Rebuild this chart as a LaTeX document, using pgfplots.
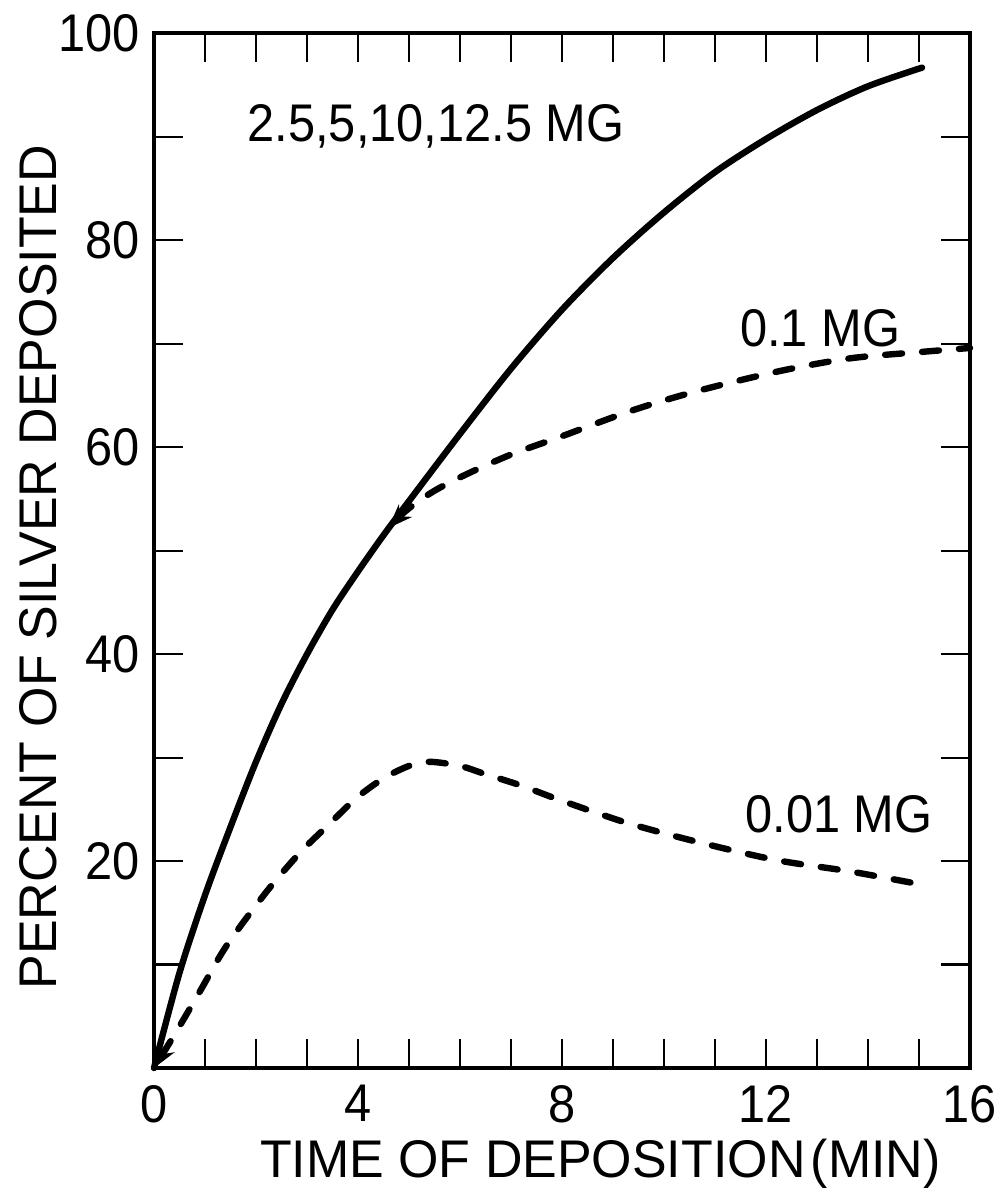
\documentclass[border=0pt]{standalone}
\usepackage{fontspec}
\setmainfont{Liberation Sans}[FakeStretch=0.92]
\newfontfamily\labelfamily{Liberation Sans}[FakeStretch=0.98]
\usepackage{pgfplots}
\pgfplotsset{compat=1.18}
\usetikzlibrary{arrows.meta}
\newcommand{\chartfont}{\fontsize{26.5}{30}\selectfont}
\begin{document}
\chartfont
\begin{tikzpicture}
\begin{axis}[
  scale only axis, width=408pt, height=517.25pt,
  xmin=0, xmax=16, ymin=0, ymax=100,
  xtick={0,4,8,12,16}, minor xtick={1,2,3,5,6,7,9,10,11,13,14,15},
  ytick={20,40,60,80,100}, minor ytick={10,30,50,70,90},
  major tick length=14.5pt, minor tick length=14.5pt,
  tick align=inside, tick pos=both,
  axis line style={line width=2pt},
  tick style={black, line width=1.1pt},
  /pgf/number format/assume math mode=true,
  tick label style={font=\chartfont},
  label style={font=\labelfamily\chartfont},
  xticklabel style={inner sep=0pt, yshift=-8.5pt},
  yticklabel style={inner sep=0pt, xshift=-7pt},
  xlabel={TIME OF DEPOSITION\hspace{0.1em}(MIN)},
  ylabel={PERCENT OF SILVER DEPOSITED},
  xlabel style={at={(axis description cs:0.547,-0.1063)}, anchor=base, inner sep=0pt},
  ylabel style={at={(axis description cs:-0.1189,0.484)}, anchor=base, inner sep=0pt},
  clip=false,
]
% 2.5, 5, 10, 12.5 mg (solid)
\addplot[black, line width=3.2pt, line cap=round, smooth] coordinates {
 (0,0) (0.5,9.2) (1,16.7) (1.5,23.3) (2,29.6) (2.5,35.2) (3,40.0) (3.5,44.3)
 (4,48.0) (4.5,51.5) (5,54.8) (6,61.3) (7,67.6) (8,73.3) (9,78.3) (10,82.7)
 (11,86.6) (12,89.8) (13,92.6) (14,94.9) (15.06,96.7)
};
% 0.1 mg (dashed)
\addplot[black, line width=3.2pt, line cap=round, dash pattern=on 8.5pt off 10pt, smooth,
  arrows={Stealth[length=12pt,width=9pt]-}] coordinates {
 (4.6,52.2) (5.0,54.1) (5.5,55.8) (6.13,57.4) (7.0,59.3) (7.96,61.0) (9.4,63.6)
 (10.7,65.5) (12.3,67.4) (13.65,68.6) (15.0,69.2) (16,69.6)
};
% 0.01 mg (dashed)
\addplot[black, line width=3.2pt, line cap=round, dash pattern=on 8.5pt off 10pt, smooth,
  arrows={Stealth[length=12pt,width=9pt]-}] coordinates {
 (0,0) (0.4,3.2) (0.9,7.4) (1.42,11.8) (2.2,17.0) (2.86,20.8) (3.4,23.4) (3.97,26.1)
 (4.5,28.0) (5.0,29.2) (5.4,29.6) (6.0,29.2) (6.5,28.4) (7.2,27.3) (7.96,25.9)
 (9.27,23.7) (10.7,21.8) (12.2,20.1) (13.65,19.0) (15.08,17.7)
};
\node[anchor=base, inner sep=0pt] at (axis cs:5.53,89.56) {2.5,5,10,12.5 MG};
\node[anchor=base, inner sep=0pt] at (axis cs:13.06,69.73) {0.1 MG};
\node[anchor=base, inner sep=0pt] at (axis cs:13.43,22.73) {0.01 MG};
\end{axis}
\pgfresetboundingbox
\path[use as bounding box] (-77pt,-60.5pt) rectangle (426pt,534pt);
\end{tikzpicture}
\end{document}
